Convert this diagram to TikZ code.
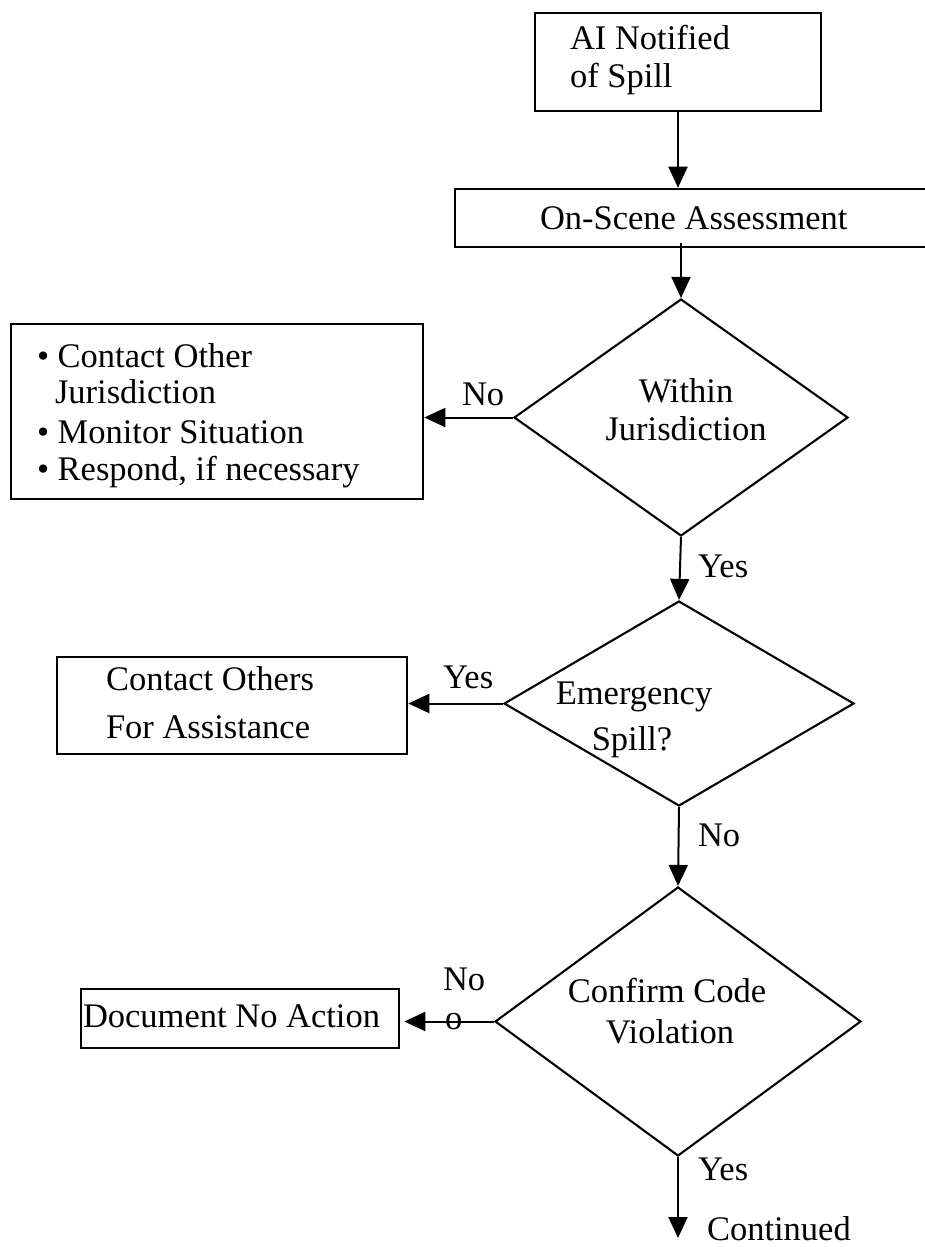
\documentclass[tikz,border=0pt]{standalone}
\usepackage{fontspec}
\setmainfont{Liberation Serif}
\usetikzlibrary{arrows.meta,shapes.geometric}

\tikzset{
  txt/.style={inner sep=0pt, outer sep=0pt, font=\fontsize{34.5}{40}\selectfont},
  lbl/.style={txt, anchor=base west},
  ctr/.style={txt, anchor=base},
  procbox/.style={draw, line width=2.6pt, rectangle, inner sep=0pt},
  decision/.style={draw, line width=2.1pt, diamond, inner sep=0pt},
  flow/.style={line width=2pt, -{Triangle[length=21pt,width=19pt]}}
}

\begin{document}
\begin{tikzpicture}[x=1pt, y=-1pt]
  \path[use as bounding box] (0,0) rectangle (925,1247);
  \clip (0,0) rectangle (925,1247);

  % process boxes
  \node[procbox, minimum width=286pt, minimum height=98pt] (notified) at (678,62) {};
  \node[procbox, minimum width=490pt, minimum height=58pt] (assess) at (700,218) {};
  \node[procbox, minimum width=412pt, minimum height=175pt] (other) at (217,411.5) {};
  \node[procbox, minimum width=350pt, minimum height=97pt] (assist) at (232,705.5) {};
  \node[procbox, minimum width=318pt, minimum height=59pt] (noaction) at (240,1018.5) {};

  % decisions
  \node[decision, minimum width=334pt, minimum height=237pt] (within) at (681,417.5) {};
  \node[decision, minimum width=350pt, minimum height=205pt] (emerg) at (679,703.5) {};
  \node[decision, minimum width=366pt, minimum height=269pt] (confirm) at (678,1021.5) {};

  \coordinate (cont) at (678,1238);

  % box texts
  \node[lbl] (t1a) at (570,49) {AI Notified};
  \node[lbl] (t1b) at (570,88) {of Spill};
  \node[lbl] (t2) at (540,229) {On-Scene Assessment};
  \node[lbl] (t3a) at (37,367) {• Contact Other};
  \node[lbl] (t3b) at (55,403) {Jurisdiction};
  \node[lbl] (t3c) at (37,443) {• Monitor Situation};
  \node[lbl] (t3d) at (37,480) {• Respond, if necessary};
  \node[lbl] (t4a) at (106,690) {Contact Others};
  \node[lbl] (t4b) at (106,738) {For Assistance};
  \node[lbl] (t5) at (83,1027) {Document No Action};

  % decision texts
  \node[ctr] (d1a) at (686,402) {Within};
  \node[ctr] (d1b) at (686,440) {Jurisdiction};
  \node[ctr] (d2a) at (634,704) {Emergency};
  \node[ctr] (d2b) at (632,750) {Spill?};
  \node[ctr] (d3a) at (667,1002) {Confirm Code};
  \node[ctr] (d3b) at (670,1043) {Violation};

  % connectors
  \draw[flow] (notified.south) -- (notified.south |- assess.north);
  \draw[flow] ([yshift=5pt]assess.south -| within.north) -- (within.north);
  \draw[flow] (within.west) -- (within.west -| other.east);
  \draw[flow] (within.south) -- (emerg.north);
  \draw[flow] (emerg.west) -- (emerg.west -| assist.east);
  \draw[flow] (emerg.south) -- (confirm.north);
  \draw[flow, shorten >=4pt] (confirm.west) -- (confirm.west -| noaction.east);
  \draw[flow] (confirm.south) -- (cont);

  % connector labels
  \node[lbl] (l1) at (462,405) {No};
  \node[lbl] (l2) at (698,577) {Yes};
  \node[lbl] (l3) at (443,688) {Yes};
  \node[lbl] (l4) at (698,846) {No};
  \node[lbl] (l5) at (443,990) {No};
  \node[lbl] (l5b) at (445,1029) {o};
  \node[lbl] (l6) at (698,1180) {Yes};
  \node[lbl] (l7) at (707,1240) {Continued};
\end{tikzpicture}
\end{document}
